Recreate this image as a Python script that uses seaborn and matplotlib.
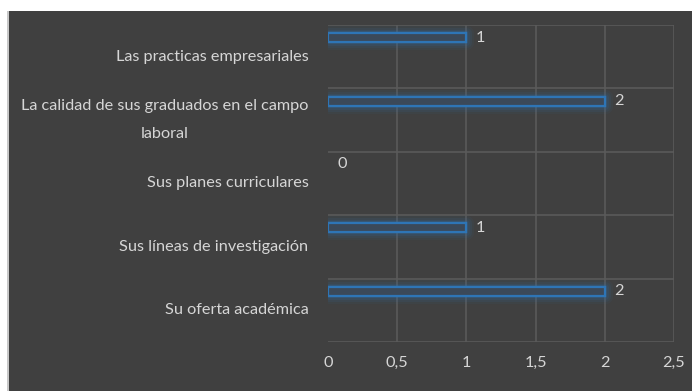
import matplotlib
matplotlib.use("Agg")
import matplotlib.pyplot as plt
from matplotlib.patches import Rectangle
import seaborn as sns
import pandas as pd
import numpy as np

categories = [
    "Las practicas empresariales",
    "La calidad de sus graduados en el campo\nlaboral",
    "Sus planes curriculares",
    "Sus líneas de investigación",
    "Su oferta académica",
]
values = [1, 2, 0, 1, 2]
x_ticks = [0, 0.5, 1, 1.5, 2, 2.5]
x_tick_labels = ["0", "0,5", "1", "1,5", "2", "2,5"]

BG = "#404040"
GRID = "#5a5a5a"
TEXT = "#d6d6d6"
BLUE = "#2e75b6"
FILL = "#36495e"
FONT = ["Lato", "DejaVu Sans"]

sns.set_theme(style="dark")
plt.rcParams["font.family"] = FONT

df = pd.DataFrame({"categoria": categories, "valor": values})

W, H = 692, 391
fig = plt.figure(figsize=(W / 100, H / 100), dpi=100, facecolor="white")
# dark chart area with a thin light edge on the left
fig.patches.append(Rectangle((9 / W, 0), 1 - 9 / W, 1 - 11 / H, transform=fig.transFigure,
                             facecolor=BG, edgecolor="none", zorder=-10))
fig.patches.append(Rectangle((7 / W, 0), 2 / W, 1 - 11 / H, transform=fig.transFigure,
                             facecolor="#c8c8c8", edgecolor="none", zorder=-10))

ax = fig.add_axes([328 / W, 1 - 342 / H, (674 - 328) / W, (342 - 25) / H])
ax.set_facecolor(BG)

sns.barplot(data=df, x="valor", y="categoria", orient="h", width=0.14,
            color=FILL, edgecolor=BLUE, linewidth=1.6, ax=ax, zorder=3)

# bars sit in the upper part of each category band
shift = -0.30
for p in list(ax.patches):
    p.set_y(p.get_y() + shift)
    if p.get_width() > 0:
        for lw, a in [(11, 0.06), (8, 0.09), (5, 0.13), (3, 0.2)]:
            glow = Rectangle((p.get_x(), p.get_y()), p.get_width(), p.get_height(),
                             facecolor="none", edgecolor=BLUE, linewidth=lw, alpha=a,
                             zorder=2, joinstyle="round")
            ax.add_patch(glow)
    else:
        p.set_visible(False)

for i, v in enumerate(values):
    ax.text(v + 0.07, i + shift, f"{v}", color=TEXT, fontsize=11.7,
            va="center", ha="left", zorder=4)

n = len(categories)
ax.set_xlim(0, 2.5)
ax.set_ylim(n - 0.5, -0.5)
ax.set_xticks(x_ticks)
ax.set_xticklabels(x_tick_labels)
ax.set_yticks(range(n))
ax.set_yticklabels(categories, multialignment="center", linespacing=2.3, va="center")
ax.set_xlabel("")
ax.set_ylabel("")
ax.tick_params(axis="x", colors=TEXT, labelsize=11.7, length=0, pad=10)
ax.tick_params(axis="y", colors=TEXT, labelsize=11.7, length=0, pad=14)

# grid: verticals at each tick, horizontals between categories
for xv in x_ticks[1:]:
    ax.axvline(xv, color=GRID, linewidth=1.2, zorder=1)
for yb in np.arange(-0.5, n, 1.0):
    ax.axhline(yb, color=GRID, linewidth=1.2, zorder=1)
ax.grid(False)
for s in ax.spines.values():
    s.set_visible(False)

fig.savefig("out.png", dpi=100, facecolor="white")
